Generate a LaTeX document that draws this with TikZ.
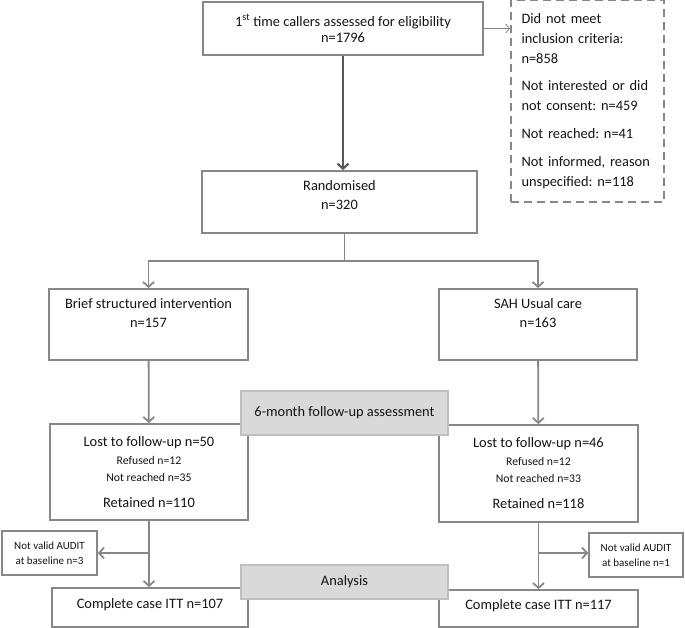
\documentclass[tikz,border=0pt]{standalone}
\usepackage{fontspec}
\setmainfont{Carlito}
\usetikzlibrary{arrows.meta}
\definecolor{edge}{HTML}{878787}
\definecolor{darkline}{HTML}{5A5A5A}
\definecolor{phasefill}{HTML}{D9D9D9}
\definecolor{phaseedge}{HTML}{BFBFBF}
\definecolor{ink}{HTML}{141414}
\newcommand\minor{\fontsize{11.7}{14}\selectfont}
\frenchspacing

\begin{document}
\begin{tikzpicture}[x=1pt,y=-1pt,
    font=\fontsize{14.4}{19}\selectfont,text=ink,
    box/.style={draw=edge,line width=1.8pt,fill=white,align=center,inner sep=0pt},
    phase/.style={draw=phaseedge,line width=1.8pt,fill=phasefill,align=center,inner sep=0pt},
    note/.style={draw=edge,line width=1.8pt,dash pattern=on 8pt off 5pt,align=left,
      inner sep=0pt,text width=132pt,font=\fontsize{14.4}{20}\selectfont},
    side/.style={box,line width=1.6pt,font=\fontsize{11}{14.5}\selectfont},
    lowtext/.style={text depth=9pt},
    line/.style={line width=1.8pt,draw=edge},
    arr/.style={-{Straight Barb[length=5pt,width=11pt]},line width=1.8pt,draw=edge},
    thinarr/.style={-{Straight Barb[length=4pt,width=9pt]},line width=0.8pt,draw=edge},
    darkarr/.style={-{Straight Barb[length=5pt,width=11pt]},line width=2.2pt,draw=darkline}
  ]
  \useasboundingbox (0,0) rectangle (685,628);

  \node[box,minimum width=280,minimum height=53] (callers) at (343,28.5)
    {1\textsuperscript{st} time callers assessed for eligibility\\[-3pt]n=1796};
  \node[note,minimum width=153,minimum height=202] (excluded) at (587.5,101)
    {Did not meet\\inclusion criteria:\\n=858\\[7pt]Not interested or did\\not consent: n=459\\[8pt]%
     Not reached: n=41\\[8pt]Not informed, reason\\unspecified: n=118};
  \node[box,minimum width=275,minimum height=62,
    label={[align=center,yshift=6.5pt]center:{Randomised\\n=320}}] (randomised) at (339.5,202) {};
  \node[box,minimum width=199,minimum height=71,
    label={[align=center,yshift=11pt]center:{Brief structured intervention\\n=157}}] (brief) at (148.5,324.5) {};
  \node[box,minimum width=198,minimum height=71,
    label={[align=center,yshift=11pt]center:{SAH Usual care\\n=163}}] (sah) at (538,324.5) {};

  \node[box,minimum width=198,minimum height=96] (lostA) at (149,472)
    {Lost to follow-up n=50\\[-1pt]{\minor Refused n=12}\\[-2pt]{\minor Not reached n=35}\\[7pt]Retained n=110};
  \node[box,minimum width=199,minimum height=97] (lostB) at (538.5,473.5)
    {Lost to follow-up n=46\\[-1pt]{\minor Refused n=12}\\[-2pt]{\minor Not reached n=33}\\[7pt]Retained n=118};
  \node[side,minimum width=95,minimum height=44] (auditA) at (49.5,553)
    {Not valid AUDIT\\at baseline n=3};
  \node[side,minimum width=94,minimum height=44] (auditB) at (636,555)
    {Not valid AUDIT\\at baseline n=1};
  \node[box,lowtext,minimum width=196,minimum height=39] (compA) at (150,607.5)
    {Complete case ITT n=107};
  \node[box,lowtext,minimum width=199,minimum height=37] (compB) at (538.5,608.5)
    {Complete case ITT n=117};

  \node[phase,minimum width=207,minimum height=44] (followup) at (344.5,413)
    {6-month follow-up assessment};
  \node[phase,minimum width=207,minimum height=34] (analysis) at (344.5,582)
    {Analysis};

  \draw[darkarr] (callers.south) -- (callers.south |- randomised.north);
  \draw[thinarr] (callers.east) -- (callers.east -| excluded.west);
  \draw[line] (randomised.south) ++(5,0) -- ++(0,27) coordinate (split);
  \draw[arr] (split) -| (brief);
  \draw[arr] (split) -| (sah);
  \draw[arr] (brief) -- (lostA);
  \draw[arr] (sah) -- (lostB);
  \draw[arr] (lostA.south) -- (lostA.south |- compA.north);
  \draw[arr] (lostB.south) -- (lostB.south |- compB.north);
  \coordinate (forkA) at (lostA.south |- auditA.east);
  \coordinate (forkB) at (lostB.south |- 0,553);
  \draw[arr] (forkA) -- (auditA);
  \draw[arr] (forkB) -- (forkB -| auditB.west);
\end{tikzpicture}
\end{document}
